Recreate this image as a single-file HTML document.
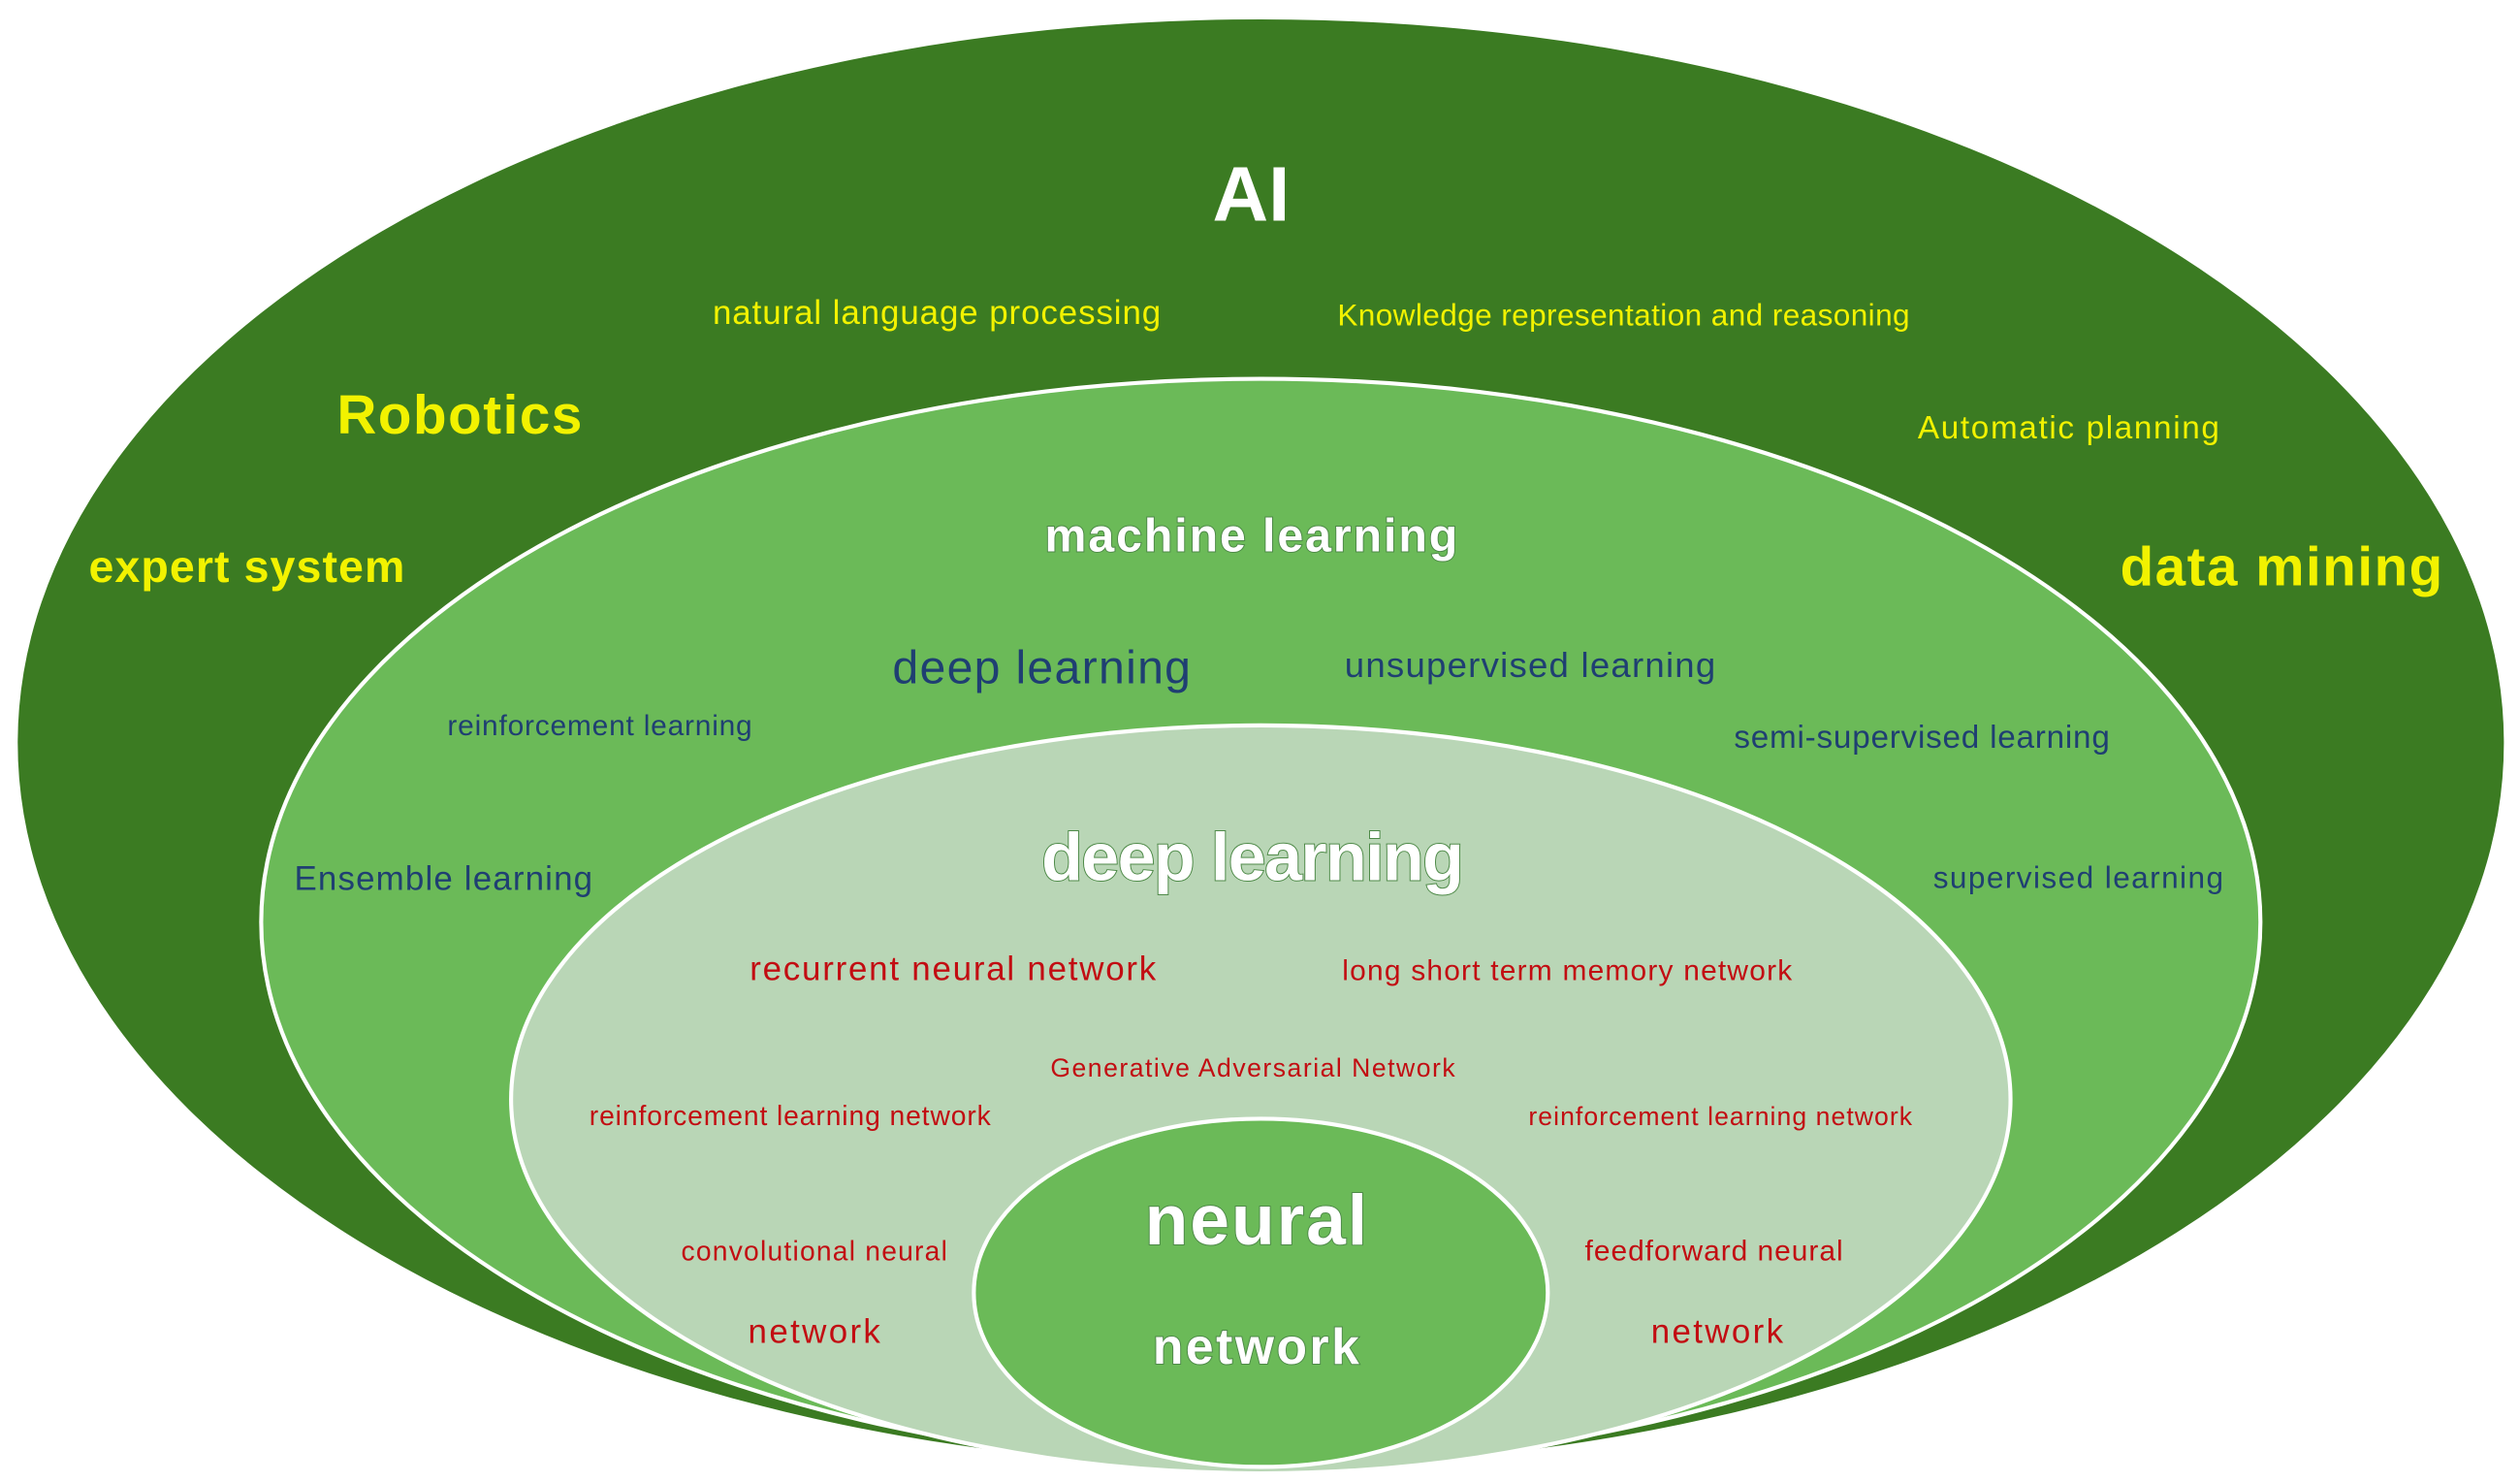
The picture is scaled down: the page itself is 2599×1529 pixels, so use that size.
<!DOCTYPE html>
<html><head><meta charset="utf-8"><style>
html,body{margin:0;padding:0;background:#fff;width:2599px;height:1529px;overflow:hidden}
svg{display:block}
text{font-family:"Liberation Sans",sans-serif;text-anchor:middle}
.y{fill:#f2f200}
.n{fill:#1f3f72}
.r{fill:#c20d12}
.b{font-weight:bold}
.w{fill:#fff;stroke:#4e8a48;stroke-width:1.2;paint-order:stroke;font-weight:bold}
</style></head><body>
<svg width="2599" height="1529" viewBox="0 0 1563 920" preserveAspectRatio="none">
<ellipse cx="782" cy="461" rx="771" ry="449" fill="#3b7b22"/>
<ellipse cx="782" cy="572" rx="620" ry="337" fill="#6bba58" stroke="#fff" stroke-width="2.5"/>
<ellipse cx="782" cy="682" rx="465" ry="232" fill="#b9d6b6" stroke="#fff" stroke-width="2.5"/>
<ellipse cx="782" cy="802" rx="178" ry="108" fill="#6bba58" stroke="#fff" stroke-width="2.5"/>
<text class="b" x="776" y="137" font-size="48" fill="#fff">AI</text>
<text class="y" x="581" y="201" font-size="21" textLength="278">natural language processing</text>
<text class="y" x="1007" y="202" font-size="19" textLength="355">Knowledge representation and reasoning</text>
<text class="y b" x="285" y="269" font-size="34" textLength="152">Robotics</text>
<text class="y" x="1283" y="272" font-size="20" textLength="187">Automatic planning</text>
<text class="y b" x="153" y="361" font-size="28" textLength="196">expert system</text>
<text class="y b" x="1415" y="363" font-size="34" textLength="200">data mining</text>
<text class="w" x="776" y="342" font-size="29" textLength="256">machine learning</text>
<text class="n" x="646" y="424" font-size="29" textLength="185">deep learning</text>
<text class="n" x="949" y="420" font-size="22" textLength="230">unsupervised learning</text>
<text class="n" x="372" y="456" font-size="18" textLength="189">reinforcement learning</text>
<text class="n" x="1192" y="464" font-size="20" textLength="233">semi-supervised learning</text>
<text class="n" x="275" y="552" font-size="21" textLength="185">Ensemble learning</text>
<text class="n" x="1289" y="551" font-size="19" textLength="180">supervised learning</text>
<text class="w" x="777" y="546" font-size="42" textLength="262">deep learning</text>
<text class="r" x="591" y="608" font-size="21" textLength="252">recurrent neural network</text>
<text class="r" x="972" y="608" font-size="18" textLength="279">long short term memory network</text>
<text class="r" x="777" y="668" font-size="16" textLength="251">Generative Adversarial Network</text>
<text class="r" x="490" y="698" font-size="17" textLength="249">reinforcement learning network</text>
<text class="r" x="1067" y="698" font-size="16" textLength="238">reinforcement learning network</text>
<text class="r" x="505" y="782" font-size="17" textLength="165">convolutional neural</text>
<text class="r" x="505" y="833" font-size="21" textLength="82">network</text>
<text class="r" x="1063" y="782" font-size="18" textLength="160">feedforward neural</text>
<text class="r" x="1065" y="833" font-size="21" textLength="82">network</text>
<text class="w" x="779" y="772" font-size="44" textLength="138">neural</text>
<text class="w" x="779" y="846" font-size="31" textLength="128">network</text>
</svg>
</body></html>
